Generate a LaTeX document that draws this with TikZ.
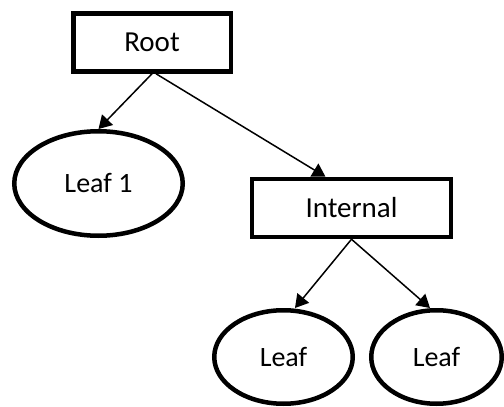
\documentclass[tikz,border=0pt]{standalone}
\usepackage{fontspec}
\setmainfont{Carlito}
\usepackage{tikz}
\usetikzlibrary{arrows.meta}
\usetikzlibrary{shapes.geometric}

\begin{document}
\begin{tikzpicture}[x=0.5pt, y=-0.5pt,
  box/.style={shape=rectangle, draw, line width=2.25pt, inner sep=0pt, minimum height=29pt, font=\fontsize{14.5}{17}\selectfont},
  leaf/.style={shape=ellipse, draw, line width=2.25pt, inner sep=0pt, minimum height=46.75pt, font=\fontsize{14}{17}\selectfont},
  edge/.style={line width=0.75pt, -{Triangle[length=6.5pt, width=7.5pt]}}]
\useasboundingbox (0,0) rectangle (504,407);
\node [box, minimum width=78.75pt] (R) at (152,42.5) {Root};
\node [leaf, minimum width=84.25pt, minimum height=52.25pt] (L) at (98.5,183.5) {Leaf 1};
\node [box, minimum width=99.5pt] (I) at (351.5,208) {Internal};
\node [leaf, minimum width=69.25pt] (A) at (283.5,357) {Leaf};
\node [leaf, minimum width=65.25pt] (B) at (436.5,357) {Leaf};
\draw[edge] (R.south) -- (L.north);
\draw[edge] ([xshift=2pt]R.south) -- ([xshift=-13pt]I.north);
\draw[edge] (I.south) -- ([xshift=5.75pt]A.north);
\draw[edge] (I.south) -- ([xshift=-3.25pt]B.north);
\end{tikzpicture}
\end{document}
